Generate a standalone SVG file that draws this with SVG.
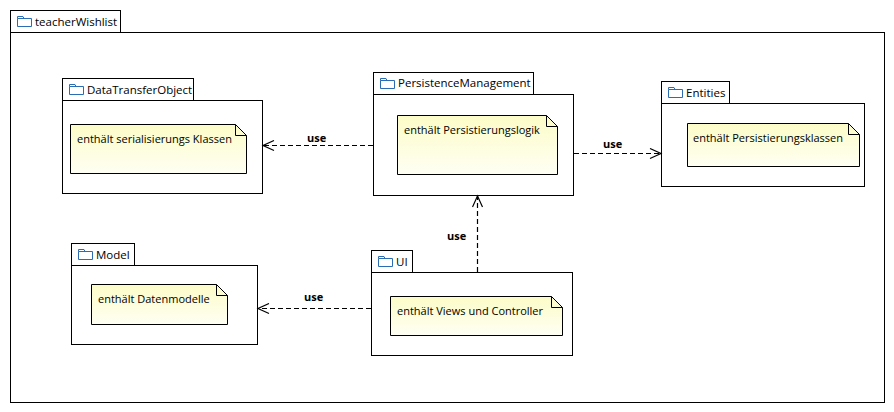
<svg xmlns="http://www.w3.org/2000/svg" width="894" height="412" viewBox="0 0 894 412">
<style>
.pk{fill:#fff;stroke:#000;stroke-width:1}
.nt{fill:url(#ng);stroke:#000;stroke-width:1}
.fold{fill:none;stroke:#000;stroke-width:1}
.t{font-family:"Open Sans","Noto Sans",sans-serif;font-size:11.5px;fill:#000}
.n{font-family:"Open Sans","Noto Sans",sans-serif;font-size:11px;fill:#000}
.u{font-family:"Open Sans","Noto Sans",sans-serif;font-size:11px;font-weight:bold;fill:#000}
.ic{fill:none;stroke:#2a6db3;stroke-width:1}
.dep{fill:none;stroke:#000;stroke-width:1.2;stroke-dasharray:5,3}
</style>
<defs>
<linearGradient id="ng" x1="0" y1="0" x2="0" y2="1">
<stop offset="0" stop-color="#fcfcc8"/>
<stop offset="1" stop-color="#fffff4"/>
</linearGradient>
<marker id="open" markerWidth="14" markerHeight="12" refX="12" refY="6" orient="auto" markerUnits="userSpaceOnUse">
<path d="M1,1 L12,6 L1,11" fill="none" stroke="#000" stroke-width="1.2"/>
</marker>
<symbol id="fold" viewBox="0 0 15 11" overflow="visible">
<path d="M0.5,2.5 H14.5 V10.5 H0.5 Z M0.5,2.5 V0.5 H6 L7,2.5" fill="none" stroke="#2a6db3" stroke-width="1"/>
</symbol>
</defs>

<g id="teacherWishlist">
<rect class="pk" x="10.5" y="10.5" width="110" height="22"/>
<rect class="pk" x="10.5" y="32.5" width="874" height="370"/>
<use href="#fold" x="17" y="16" width="15" height="11"/>
<text class="t" x="35" y="26">teacherWishlist</text>
</g>

<g id="DataTransferObject">
<rect class="pk" x="62.5" y="78.5" width="131" height="22"/>
<rect class="pk" x="62.5" y="100.5" width="200" height="93"/>
<use href="#fold" x="69" y="84" width="15" height="11"/>
<text class="t" x="87" y="94">DataTransferObject</text>
<path class="nt" d="M70.5,124.5 H235.5 L246.5,135.5 V173.5 H70.5 Z"/>
<path class="fold" d="M235.5,124.5 V135.5 H246.5"/>
<text class="n" x="77" y="143">enthält serialisierungs Klassen</text>
</g>

<g id="PersistenceManagement">
<rect class="pk" x="373.5" y="72.5" width="160" height="22"/>
<rect class="pk" x="373.5" y="94.5" width="200" height="101"/>
<use href="#fold" x="380" y="78" width="15" height="11"/>
<text class="t" x="398" y="87">PersistenceManagement</text>
<path class="nt" d="M397.5,115.5 H546.5 L557.5,126.5 V174.5 H397.5 Z"/>
<path class="fold" d="M546.5,115.5 V126.5 H557.5"/>
<text class="n" x="404" y="134">enthält Persistierungslogik</text>
</g>

<g id="Entities">
<rect class="pk" x="661.5" y="81.5" width="68" height="22"/>
<rect class="pk" x="661.5" y="103.5" width="203" height="83"/>
<use href="#fold" x="668" y="87" width="15" height="11"/>
<text class="t" x="686" y="97">Entities</text>
<path class="nt" d="M687.5,123.5 H848.5 L859.5,134.5 V166.5 H687.5 Z"/>
<path class="fold" d="M848.5,123.5 V134.5 H859.5"/>
<text class="n" x="693" y="142">enthält Persistierungsklassen</text>
</g>

<g id="Model">
<rect class="pk" x="71.5" y="243.5" width="63" height="22"/>
<rect class="pk" x="71.5" y="265.5" width="186" height="79"/>
<use href="#fold" x="78" y="249" width="15" height="11"/>
<text class="t" x="96" y="259">Model</text>
<path class="nt" d="M91.5,284.5 H216.5 L227.5,295.5 V324.5 H91.5 Z"/>
<path class="fold" d="M216.5,284.5 V295.5 H227.5"/>
<text class="n" x="98" y="303">enthält Datenmodelle</text>
</g>

<g id="UI">
<rect class="pk" x="371.5" y="250.5" width="41" height="22"/>
<rect class="pk" x="371.5" y="272.5" width="201" height="83"/>
<use href="#fold" x="378" y="256" width="15" height="11"/>
<text class="t" x="396" y="266">UI</text>
<path class="nt" d="M390.5,296.5 H551.5 L562.5,307.5 V335.5 H390.5 Z"/>
<path class="fold" d="M551.5,296.5 V307.5 H562.5"/>
<text class="n" x="397" y="315">enthält Views und Controller</text>
</g>

<g id="connectors">
<path class="dep" d="M373,145.5 H263" marker-end="url(#open)"/>
<text class="u" x="307" y="142">use</text>
<path class="dep" d="M574,153.5 H661" marker-end="url(#open)"/>
<text class="u" x="603" y="148">use</text>
<path class="dep" d="M477.5,272 V196" marker-end="url(#open)"/>
<text class="u" x="447" y="240">use</text>
<path class="dep" d="M371,308.5 H258" marker-end="url(#open)"/>
<text class="u" x="304" y="301">use</text>
</g>
</svg>
